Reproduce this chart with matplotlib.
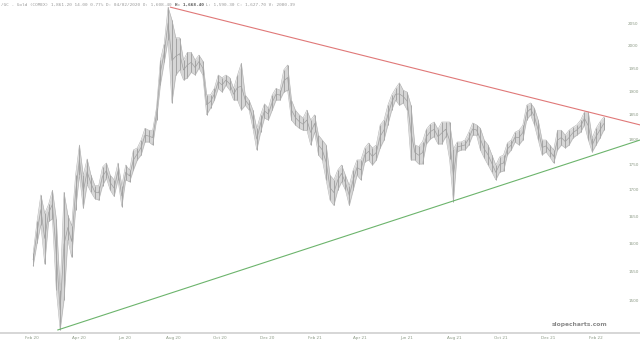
import pandas as pd
import matplotlib
matplotlib.use("Agg")
import matplotlib.pyplot as plt
from matplotlib.ticker import NullLocator

# /GC gold futures, one bar range per 5 calendar days
dates = pd.date_range("2020-02-11", periods=149, freq="5D")

lows = [
    1560, 1600, 1634, 1563, 1640, 1645, 1518, 1451, 1501, 1606,
    1575, 1661, 1728, 1665, 1710, 1695, 1683, 1680, 1708, 1722,
    1699, 1687, 1719, 1668, 1719, 1715, 1738, 1758, 1768, 1794,
    1794, 1788, 1839, 1914, 1963, 2013, 1875, 1935, 1946, 1924,
    1929, 1941, 1935, 1950, 1935, 1850, 1864, 1881, 1906, 1898,
    1913, 1902, 1881, 1881, 1860, 1870, 1860, 1822, 1778, 1814,
    1843, 1839, 1860, 1881, 1881, 1898, 1902, 1839, 1829, 1822,
    1818, 1818, 1788, 1814, 1768, 1758, 1719, 1680, 1670, 1699,
    1715, 1699, 1670, 1699, 1728, 1719, 1754, 1758, 1748, 1758,
    1782, 1798, 1829, 1860, 1881, 1870, 1875, 1860, 1758, 1758,
    1750, 1750, 1790, 1800, 1805, 1790, 1790, 1805, 1760, 1677,
    1774, 1778, 1778, 1788, 1808, 1808, 1778, 1762, 1748, 1734,
    1719, 1734, 1736, 1768, 1778, 1794, 1788, 1798, 1839, 1850,
    1829, 1798, 1768, 1774, 1764, 1752, 1778, 1788, 1782, 1788,
    1802, 1808, 1814, 1829, 1798, 1774, 1788, 1802, 1818,
]
highs = [
    1582, 1640, 1690, 1655, 1672, 1699, 1645, 1518, 1695, 1652,
    1632, 1728, 1788, 1728, 1760, 1728, 1708, 1708, 1744, 1752,
    1728, 1719, 1752, 1708, 1748, 1738, 1778, 1782, 1798, 1822,
    1818, 1818, 1865, 1968, 2005, 2089, 2059, 2018, 2018, 1968,
    1985, 1985, 1968, 1979, 1966, 1892, 1892, 1906, 1935, 1929,
    1935, 1929, 1906, 1935, 1961, 1892, 1881, 1860, 1822, 1850,
    1873, 1864, 1892, 1906, 1902, 1946, 1957, 1881, 1860, 1850,
    1843, 1860, 1839, 1850, 1808, 1798, 1788, 1728, 1719, 1738,
    1748, 1728, 1708, 1738, 1758, 1758, 1782, 1792, 1782, 1788,
    1829, 1839, 1870, 1892, 1906, 1918, 1902, 1898, 1870, 1788,
    1785, 1795, 1820, 1830, 1835, 1820, 1835, 1835, 1835, 1780,
    1794, 1794, 1798, 1814, 1833, 1829, 1822, 1798, 1788, 1768,
    1748, 1764, 1768, 1792, 1798, 1814, 1818, 1828, 1870, 1875,
    1864, 1839, 1798, 1798, 1788, 1778, 1818, 1818, 1808, 1818,
    1824, 1829, 1839, 1856, 1856, 1802, 1822, 1835, 1845,
]

# trend lines: (start date, start price) -> (end date, end price)
resist_dates = ["2020-08-07", "2022-04-08"]
resist_prices = [2089, 1829]
support_dates = ["2020-03-14", "2022-04-08"]
support_prices = [1451, 1798]

y_ticks = [1500, 1550, 1600, 1650, 1700, 1750, 1800, 1850, 1900, 1950, 2000, 2050]
x_ticks = pd.date_range("2020-02-01", "2022-02-01", freq="2MS")
x_labels = [d.strftime("%b %y") for d in x_ticks]

header = "/GC - Gold (COMEX) 1,861.20 14.00 0.77% D: 04/02/2020 O: 1,608.40 "
header_bold = "H: 1,668.40"
header_tail = " L: 1,590.30 C: 1,627.70 V: 2080.39"

fig = plt.figure(figsize=(6.4, 3.45), dpi=100)
ax = fig.add_axes([0, 12 / 345, 1, 333 / 345])

mid = [(lo + hi) / 2 for lo, hi in zip(lows, highs)]
ax.fill_between(dates, lows, highs, color="#d6d6d6", linewidth=0)
ax.vlines(dates, lows, highs, color="#a4a4a4", linewidth=0.7)
ax.plot(dates, lows, color="#b2b2b2", linewidth=0.4)
ax.plot(dates, highs, color="#b2b2b2", linewidth=0.4)
ax.plot(dates, mid, color="#a0a0a0", linewidth=0.5)

ax.plot(pd.to_datetime(resist_dates), resist_prices, color="#e07878", linewidth=0.8)
ax.plot(pd.to_datetime(support_dates), support_prices, color="#6cb46c", linewidth=0.8)

ax.set_yscale("log")
ax.set_ylim(1446, 2106)
ax.set_xlim(pd.Timestamp("2019-12-30"), pd.Timestamp("2022-04-08"))

ax.set_yticks(y_ticks)
ax.set_yticklabels([str(v) for v in y_ticks])
ax.yaxis.set_minor_locator(NullLocator())
ax.tick_params(axis="y", left=False, labelleft=False, right=False, labelright=True,
               pad=-12, labelsize=3, labelcolor="#8c9a86")

ax.set_xticks(x_ticks)
ax.set_xticklabels(x_labels, ha="left")
ax.tick_params(axis="x", length=0, pad=2, labelsize=3, labelcolor="#8c9a86")

for side in ["top", "left", "right"]:
    ax.spines[side].set_visible(False)
ax.spines["bottom"].set_color("#cfcfcf")
ax.spines["bottom"].set_linewidth(1.2)

t = ax.text(0.002, 0.985, header, transform=ax.transAxes, fontsize=3.2,
            family="DejaVu Sans Mono", color="#9a9a9a", va="center")
fig.canvas.draw()
bb = t.get_window_extent().transformed(ax.transAxes.inverted())
t2 = ax.text(bb.x1, 0.985, header_bold, transform=ax.transAxes, fontsize=3.2,
             family="DejaVu Sans Mono", color="#555555", weight="bold", va="center")
fig.canvas.draw()
bb2 = t2.get_window_extent().transformed(ax.transAxes.inverted())
ax.text(bb2.x1, 0.985, header_tail, transform=ax.transAxes, fontsize=3.2,
        family="DejaVu Sans Mono", color="#9a9a9a", va="center")

ax.text(0.949, 0.025, "slopecharts.com", transform=ax.transAxes, fontsize=4.3,
        color="#8a8a8a", weight="bold", ha="right", va="center")

fig.savefig("out.png", dpi=100)
